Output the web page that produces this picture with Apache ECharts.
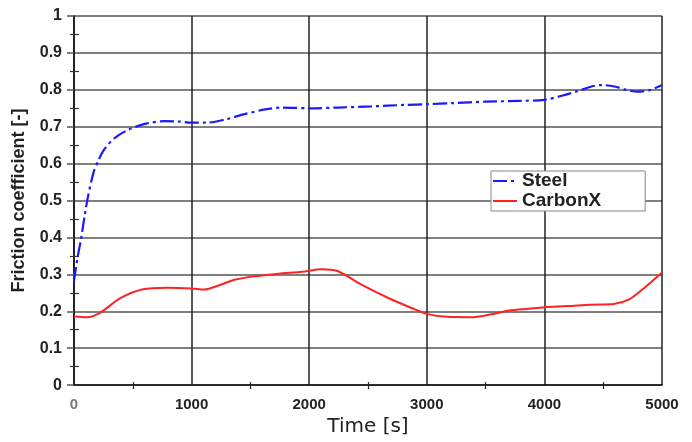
<!DOCTYPE html>
<html>
<head>
<meta charset="utf-8">
<script src="https://cdn.jsdelivr.net/npm/echarts@6/dist/echarts.min.js"></script>
<style>
  html, body { margin: 0; padding: 0; background: #fff; }
  #chart { width: 692px; height: 442px; }
</style>
</head>
<body>
<div id="chart"></div>
<script>
// values
const steelTime = [0, 30, 61, 91, 121, 167, 212, 258, 348, 470, 621, 773, 894, 1000, 1125, 1290, 1450, 1625, 1766, 2000, 2246, 2525, 2804, 3000, 3224, 3503, 3784, 4000, 4148, 4288, 4400, 4484, 4596, 4707, 4791, 4903, 5000]
const steelValue = [0.282, 0.345, 0.398, 0.46, 0.514, 0.577, 0.612, 0.639, 0.67, 0.693, 0.709, 0.715, 0.714, 0.711, 0.711, 0.72, 0.734, 0.747, 0.752, 0.75, 0.752, 0.755, 0.759, 0.761, 0.764, 0.768, 0.77, 0.773, 0.784, 0.797, 0.809, 0.813, 0.809, 0.799, 0.795, 0.8, 0.813]

const carbonTime = [0, 108, 217, 397, 578, 794, 1000, 1110, 1210, 1375, 1542, 1741, 1940, 2106, 2240, 2440, 2673, 2870, 3000, 3172, 3371, 3536, 3702, 3868, 4000, 4197, 4394, 4590, 4721, 4852, 5000]
const carbonValue = [0.186, 0.184, 0.195, 0.236, 0.259, 0.264, 0.262, 0.259, 0.268, 0.286, 0.295, 0.302, 0.307, 0.314, 0.309, 0.273, 0.236, 0.209, 0.193, 0.185, 0.184, 0.191, 0.202, 0.207, 0.211, 0.214, 0.218, 0.22, 0.232, 0.264, 0.305]

const xTicks = { min: 0, max: 5000, interval: 1000 }
const yTicks = { min: 0, max: 1, interval: 0.1 }

const pairs = (xs, ys) => xs.map((x, i) => [x, ys[i]])

const chart = echarts.init(document.getElementById('chart'))

const labelFont = { fontFamily: 'Liberation Sans, Arial, sans-serif', fontWeight: 'bold', fontSize: 15 }

chart.setOption({
  animation: false,
  backgroundColor: '#fff',
  grid: { left: 74, right: 30, top: 16, bottom: 54 },
  legend: {
    orient: 'vertical',
    left: 491,
    top: 171,
    padding: [0, 44, 0, 1],
    itemGap: 0,
    itemWidth: 24,
    itemHeight: 20,
    backgroundColor: '#fff',
    borderColor: '#888',
    borderWidth: 1,
    borderRadius: 0,
    itemStyle: { opacity: 0 },
    textStyle: { color: '#222', fontFamily: 'Liberation Sans, Arial, sans-serif', fontWeight: 'bold', fontSize: 19, lineHeight: 20 },
    data: ['Steel', 'CarbonX']
  },
  xAxis: [{
    type: 'value',
    min: xTicks.min,
    max: xTicks.max,
    interval: xTicks.interval,
    name: 'Time [s]',
    nameLocation: 'middle',
    nameGap: 29,
    nameTextStyle: { color: '#222', fontFamily: 'DejaVu Sans, sans-serif', fontSize: 20 },
    axisLine: { lineStyle: { color: '#111', width: 1.5 } },
    axisTick: { show: false },
    minorTick: { show: true, splitNumber: 2, length: 4, lineStyle: { color: '#222', width: 1.2 } },
    axisLabel: {
      ...labelFont,
      margin: 12,
      formatter: (v) => String(v),
      color: (v) => (+v === 0 ? '#777' : '#222')
    },
    splitLine: { lineStyle: { color: '#222', width: 1.5 } }
  }, {
    type: 'value',
    position: 'bottom',
    min: xTicks.min,
    max: xTicks.max,
    interval: xTicks.interval,
    axisLine: { show: false },
    axisTick: { show: false, inside: true },
    minorTick: { show: true, splitNumber: 2, length: 3, lineStyle: { color: '#222', width: 1.2 } },
    axisLabel: { show: false },
    splitLine: { show: false }
  }],
  yAxis: [{
    type: 'value',
    min: yTicks.min,
    max: yTicks.max,
    interval: yTicks.interval,
    name: 'Friction coefficient [-]',
    nameLocation: 'middle',
    nameGap: 46,
    nameTextStyle: { color: '#222', fontFamily: 'Liberation Sans, Arial, sans-serif', fontWeight: 'bold', fontSize: 18 },
    axisLine: { show: true, lineStyle: { color: '#111', width: 1.5 } },
    axisTick: { show: true, length: 7, lineStyle: { color: '#555', width: 1.5 } },
    minorTick: { show: true, splitNumber: 2, length: 4, lineStyle: { color: '#333', width: 1.2 } },
    axisLabel: { ...labelFont, fontSize: 16, color: '#222', margin: 12, formatter: (v) => String(v) },
    splitLine: { lineStyle: { color: '#555', width: 1.5 } }
  }, {
    type: 'value',
    position: 'left',
    min: yTicks.min,
    max: yTicks.max,
    interval: yTicks.interval,
    axisLine: { show: false },
    axisTick: { show: false, inside: true },
    minorTick: { show: true, splitNumber: 2, length: 5, lineStyle: { color: '#333', width: 1.2 } },
    axisLabel: { show: false },
    splitLine: { show: false }
  }],
  series: [{
    name: 'Steel',
    type: 'line',
    xAxisIndex: 0,
    yAxisIndex: 0,
    smooth: 0.3,
    showSymbol: false,
    symbol: 'none',
    lineStyle: { color: '#1a1aff', width: 2.2, type: [14, 4, 3, 4] },
    itemStyle: { color: '#1a1aff' },
    data: pairs(steelTime, steelValue)
  }, {
    name: 'CarbonX',
    type: 'line',
    xAxisIndex: 0,
    yAxisIndex: 0,
    smooth: 0.3,
    showSymbol: false,
    symbol: 'none',
    lineStyle: { color: '#ff2222', width: 2 },
    itemStyle: { color: '#ff2222' },
    data: pairs(carbonTime, carbonValue)
  }]
})

window.addEventListener('resize', () => chart.resize())
</script>
</body>
</html>
